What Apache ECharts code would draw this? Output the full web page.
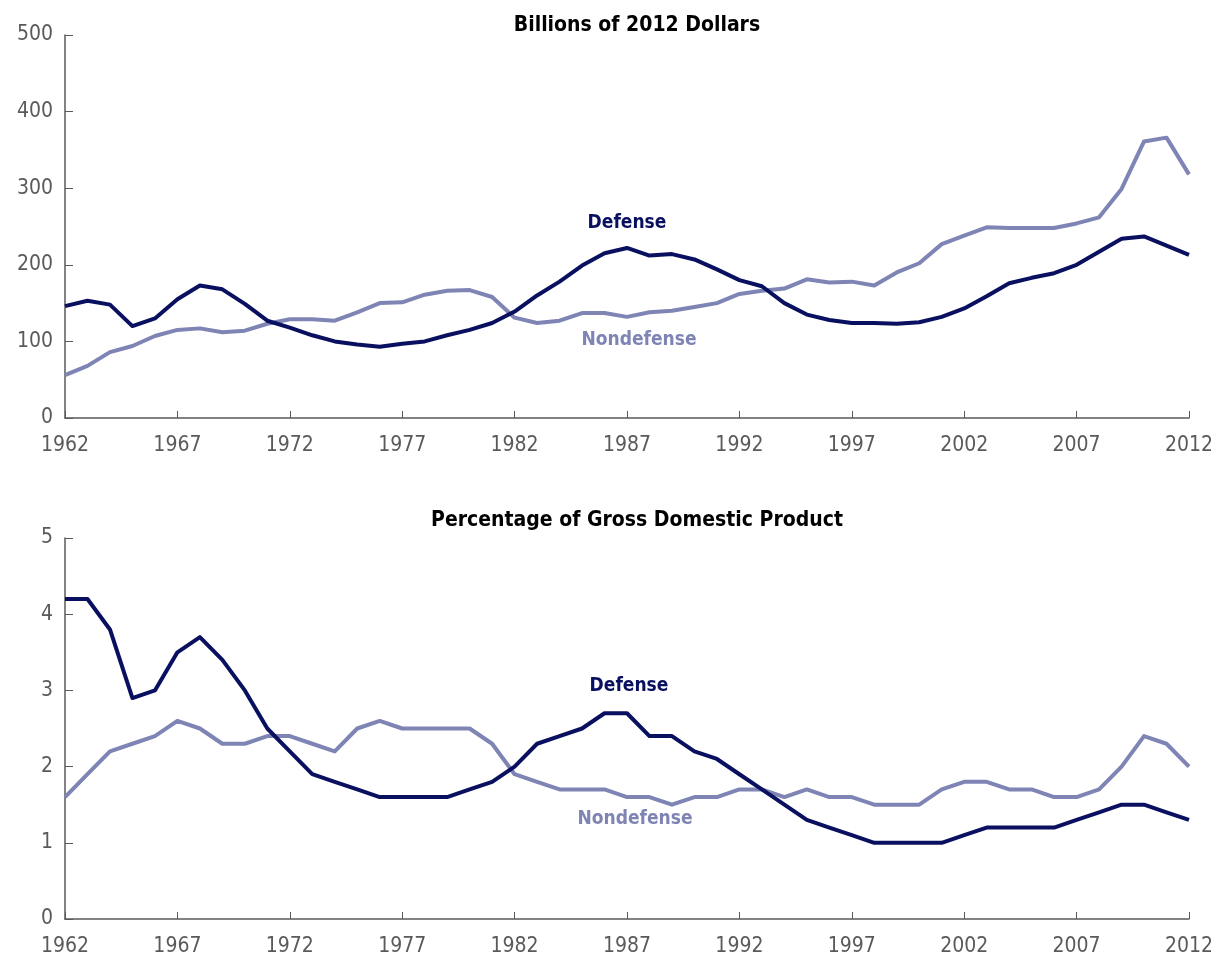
<!DOCTYPE html>
<html>
<head>
<meta charset="utf-8">
<script src="https://cdn.jsdelivr.net/npm/echarts@6/dist/echarts.min.js"></script>
<style>
  html, body { margin: 0; padding: 0; background: #fff; overflow: hidden; }
  #chart { width: 1211px; height: 959px; }
</style>
</head>
<body>
<div id="chart"></div>
<script>
// years on the x axis
const years = [];
for (let y = 1962; y <= 2012; y++) years.push(String(y));

// billions of 2012 dollars
const defenseDollars = [
  146, 153, 148, 120, 130, 155, 173, 168, 149, 127,
  118, 108, 100, 96, 93, 97, 100, 108, 115, 124,
  139, 160, 178, 199, 215, 222, 212, 214, 207, 194,
  180, 172, 150, 135, 128, 124, 124, 123, 125, 132,
  143, 159, 176, 183, 189, 200, 217, 234, 237, 225,
  213
];
const nondefenseDollars = [
  56, 68, 86, 94, 107, 115, 117, 112, 114, 123,
  129, 129, 127, 138, 150, 151, 161, 166, 167, 158,
  131, 124, 127, 137, 137, 132, 138, 140, 145, 150,
  162, 166, 169, 181, 177, 178, 173, 190, 202, 227,
  238, 249, 248, 248, 248, 254, 262, 299, 361, 366,
  318
];

// percentage of GDP
const defensePct = [
  4.2, 4.2, 3.8, 2.9, 3.0, 3.5, 3.7, 3.4, 3.0, 2.5,
  2.2, 1.9, 1.8, 1.7, 1.6, 1.6, 1.6, 1.6, 1.7, 1.8,
  2.0, 2.3, 2.4, 2.5, 2.7, 2.7, 2.4, 2.4, 2.2, 2.1,
  1.9, 1.7, 1.5, 1.3, 1.2, 1.1, 1.0, 1.0, 1.0, 1.0,
  1.1, 1.2, 1.2, 1.2, 1.2, 1.3, 1.4, 1.5, 1.5, 1.4,
  1.3
];
const nondefensePct = [
  1.6, 1.9, 2.2, 2.3, 2.4, 2.6, 2.5, 2.3, 2.3, 2.4,
  2.4, 2.3, 2.2, 2.5, 2.6, 2.5, 2.5, 2.5, 2.5, 2.3,
  1.9, 1.8, 1.7, 1.7, 1.7, 1.6, 1.6, 1.5, 1.6, 1.6,
  1.7, 1.7, 1.6, 1.7, 1.6, 1.6, 1.5, 1.5, 1.5, 1.7,
  1.8, 1.8, 1.7, 1.7, 1.6, 1.6, 1.7, 2.0, 2.4, 2.3,
  2.0
];

const DEF_COLOR = '#0a1060';
const NON_COLOR = '#7e84b4';
const AXIS_COLOR = '#5a5a5a';
const FONT = "'Liberation Sans Narrow', 'DejaVu Sans Condensed', sans-serif";

const chart = echarts.init(document.getElementById('chart'));

function xAxisFor(gridIndex) {
  return {
    type: 'category',
    gridIndex: gridIndex,
    data: years,
    boundaryGap: false,
    axisLine: { lineStyle: { color: AXIS_COLOR, width: 1.5 } },
    axisTick: { inside: true, length: 7, interval: 4, lineStyle: { color: AXIS_COLOR } },
    axisLabel: { interval: 4, color: AXIS_COLOR, fontSize: 21, fontFamily: FONT, margin: 17 },
    splitLine: { show: false },
  };
}

function yAxisFor(gridIndex, max, interval) {
  return {
    type: 'value',
    gridIndex: gridIndex,
    min: 0,
    max: max,
    interval: interval,
    axisLine: { show: true, lineStyle: { color: AXIS_COLOR, width: 1.5 } },
    axisTick: { show: true, inside: true, length: 8, lineStyle: { color: AXIS_COLOR } },
    axisLabel: { color: AXIS_COLOR, fontSize: 21, fontFamily: FONT, margin: 12 },
    splitLine: { show: false },
  };
}

// series name written next to its line, as a marker with no symbol
function tag(text, color, year, value, dx) {
  return {
    symbolSize: 0,
    label: { show: false },
    data: [{
      coord: [year, value],
      label: {
        show: true,
        formatter: text,
        position: 'inside',
        offset: [dx, 0],
        color: color,
        fontSize: 19,
        fontWeight: 'bold',
        fontFamily: FONT,
      },
    }],
  };
}

function lineSeries(name, data, color, xi, mark) {
  return {
    name: name,
    type: 'line',
    xAxisIndex: xi,
    yAxisIndex: xi,
    data: data,
    symbol: 'none',
    lineStyle: { width: 4, color: color, join: 'round' },
    itemStyle: { color: color },
    markPoint: mark,
    animation: false,
    z: name === 'Defense' ? 3 : 2,
  };
}

const option = {
  backgroundColor: '#fff',
  animation: false,
  title: [
    {
      text: 'Billions of 2012 Dollars',
      left: 632,
      top: 10,
      textAlign: 'center',
      textStyle: { color: '#000', fontSize: 21, fontWeight: 'bold', fontFamily: FONT },
    },
    {
      text: 'Percentage of Gross Domestic Product',
      left: 632,
      top: 505,
      textAlign: 'center',
      textStyle: { color: '#000', fontSize: 21, fontWeight: 'bold', fontFamily: FONT },
    },
  ],
  grid: [
    { left: 65, right: 22, top: 35, height: 383, outerBoundsMode: 'none' },
    { left: 65, right: 22, top: 538, height: 381, outerBoundsMode: 'none' },
  ],
  xAxis: [xAxisFor(0), xAxisFor(1)],
  yAxis: [yAxisFor(0, 500, 100), yAxisFor(1, 5, 1)],
  series: [
    lineSeries('Nondefense', nondefenseDollars, NON_COLOR, 0, tag('Nondefense', NON_COLOR, '1987', 102, 12)),
    lineSeries('Defense', defenseDollars, DEF_COLOR, 0, tag('Defense', DEF_COLOR, '1987', 254, 0)),
    lineSeries('Nondefense', nondefensePct, NON_COLOR, 1, tag('Nondefense', NON_COLOR, '1987', 1.31, 8)),
    lineSeries('Defense', defensePct, DEF_COLOR, 1, tag('Defense', DEF_COLOR, '1987', 3.06, 2)),
  ],
};

chart.setOption(option);
window.addEventListener('resize', () => chart.resize());
</script>
</body>
</html>
